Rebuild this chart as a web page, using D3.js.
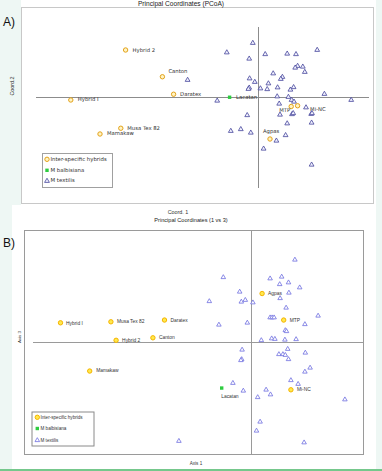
<!DOCTYPE html>
<html>
<head>
<meta charset="utf-8">
<script src="https://cdn.jsdelivr.net/npm/d3@7"></script>
<style>
html,body{margin:0;padding:0;background:#eef7f4;}
svg{display:block;}
</style>
</head>
<body>
<svg id="chart" width="382" height="471"></svg>
<script>
// ---------- DATA ----------
const hybridNames = ["Hybrid 2","Canton","Daratex","Hybrid I","Musa Tex 82","Mamakaw","MTP","Mi-NC","Agpas"];
const balbisianaNames = ["Lacatan"];
const legendLabels = ["Inter-specific hybrids","M balbisiana","M textilis"];

// Panel A: Coord.1 vs Coord.2
const hybridA_c1 = [-0.331,-0.239,-0.211,-0.468,-0.343,-0.395,0.083,0.099,0.030];
const hybridA_c2 = [0.188,0.081,0.011,-0.012,-0.125,-0.148,-0.038,-0.035,-0.168];
const balbA_c1 = [-0.071];
const balbA_c2 = [-0.001];
const textilisA_c1 = [-0.013,-0.078,-0.022,0.018,0.073,0.095,0.148,0.099,0.093,0.112,0.117,0.038,0.061,0.057,-0.021,-0.008,0.026,-0.022,-0.024,0.006,0.023,0.049,0.081,0.089,-0.176,0.166,0.233,-0.102,0.048,0.053,0.076,0.084,0.090,0.120,0.055,0.085,0.088,0.133,0.135,-0.027,0.073,0.134,-0.068,-0.043,-0.018,0.069,0.046,0.014,0.134];
const textilisA_c2 = [0.216,0.178,0.153,0.171,0.173,0.171,0.188,0.124,0.117,0.121,0.100,0.094,0.080,0.072,0.074,0.060,0.054,0.037,0.032,0.034,0.031,0.038,0.029,0.039,0.068,0.012,-0.012,-0.015,0.002,-0.027,0.000,-0.012,-0.019,-0.042,-0.071,-0.069,-0.065,-0.068,-0.065,-0.073,-0.106,-0.103,-0.136,-0.129,-0.143,-0.153,-0.175,-0.207,-0.271];

// Panel B: Axis 1 vs Axis 3
const hybridB_c1 = [-0.336,-0.244,-0.215,-0.475,-0.349,-0.402,0.083,0.101,0.029];
const hybridB_c3 = [0.008,0.018,0.089,0.078,0.082,-0.115,0.089,-0.190,0.195];
const balbB_c1 = [-0.072];
const balbB_c3 = [-0.183];
const textilisB_c1 = [0.111,-0.068,0.049,0.078,0.073,0.095,0.123,-0.027,0.096,0.074,-0.103,-0.023,-0.013,0.006,0.089,0.049,0.054,0.059,0.169,0.136,-0.079,-0.008,0.087,0.090,0.027,0.053,0.061,0.086,0.114,-0.021,0.093,0.137,0.071,0.081,0.087,0.095,-0.022,-0.024,0.149,0.136,0.101,0.119,-0.044,-0.018,0.039,0.050,0.018,0.236,0.024,0.015,0.134,-0.179];
const textilisB_c3 = [0.330,0.260,0.255,0.262,0.232,0.239,0.219,0.202,0.198,0.176,0.164,0.162,0.169,0.159,0.138,0.099,0.099,0.099,0.106,0.072,0.070,0.078,0.048,0.044,0.008,0.015,0.013,0.010,0.012,-0.030,-0.027,-0.042,-0.048,-0.048,-0.051,-0.068,-0.068,-0.072,-0.102,-0.118,-0.152,-0.167,-0.163,-0.194,-0.190,-0.209,-0.220,-0.229,-0.318,-0.354,-0.401,-0.395];

// ---------- STYLE / PLACEMENT ----------
const labelOffA = {"Hybrid 2":[7,0.5],"Canton":[6,-5],"Daratex":[6.5,0.5],"Hybrid I":[7,0],"Musa Tex 82":[6.5,0],"Mamakaw":[7,0],"MTP":[-12,4],"Mi-NC":[12.5,3.5],"Agpas":[-7,-7],"Lacatan":[6.5,0.5]};
const labelOffB = {"Hybrid 2":[6,0.8],"Canton":[6,0.3],"Daratex":[6,0.3],"Hybrid I":[5.5,0.5],"Musa Tex 82":[6,0.3],"Mamakaw":[6.5,0],"MTP":[6,0.3],"Mi-NC":[6,0.2],"Agpas":[6,0.5],"Lacatan":[-0.5,9]};

const svg = d3.select("#chart");

// backgrounds
svg.append("rect").attr("x",21).attr("y",0).attr("width",355).attr("height",205).attr("fill","#fff");
svg.append("rect").attr("x",12).attr("y",205).attr("width",364).attr("height",264).attr("fill","#fff");
svg.append("line").attr("x1",0).attr("x2",382).attr("y1",470).attr("y2",470).attr("stroke","#4cb86a").attr("stroke-width",1.5);

const triSym = d3.symbol().type(d3.symbolTriangle);

function drawPanel(cfg){
  const g = svg.append("g");
  const {x,y} = cfg;
  g.append("rect").attr("x",cfg.box[0]+0.5).attr("y",cfg.box[1]+0.5)
    .attr("width",cfg.box[2]-cfg.box[0]).attr("height",cfg.box[3]-cfg.box[1])
    .attr("fill","#fff").attr("stroke",cfg.frameColor).attr("stroke-width",1);
  g.append("line").attr("x1",Math.round(x(0))+0.5).attr("x2",Math.round(x(0))+0.5)
    .attr("y1",cfg.vLine[0]).attr("y2",cfg.vLine[1]).attr("stroke",cfg.axisColor).attr("stroke-width",1);
  g.append("line").attr("y1",Math.round(y(0))+0.5).attr("y2",Math.round(y(0))+0.5)
    .attr("x1",cfg.hLine[0]).attr("x2",cfg.hLine[1]).attr("stroke",cfg.axisColor).attr("stroke-width",1);

  const tri = cfg.tx.map((v,i)=>({x:v,y:cfg.ty[i]}));
  g.selectAll(".tri").data(tri).enter().append("path")
    .attr("d",triSym.size(cfg.triSize)())
    .attr("transform",d=>`translate(${x(d.x)},${y(d.y)})`)
    .attr("fill",cfg.triFill).attr("stroke",cfg.triColor).attr("stroke-width",0.8);

  const bal = cfg.bx.map((v,i)=>({name:balbisianaNames[i],x:v,y:cfg.by[i]}));
  g.selectAll(".bal").data(bal).enter().append("rect")
    .attr("x",d=>x(d.x)-1.7).attr("y",d=>y(d.y)-1.7).attr("width",3.4).attr("height",3.4)
    .attr("fill","#2ecc40");
  const hyb = cfg.hx.map((v,i)=>({name:hybridNames[i],x:v,y:cfg.hy[i]}));
  g.selectAll(".hyb").data(hyb).enter().append("circle")
    .attr("cx",d=>x(d.x)).attr("cy",d=>y(d.y)).attr("r",2.2)
    .attr("fill",cfg.hybFill).attr("stroke",cfg.hybColor).attr("stroke-width",1);

  g.selectAll(".lbl").data(hyb.concat(bal)).enter().append("text")
    .attr("x",d=>x(d.x)+cfg.off[d.name][0]).attr("y",d=>y(d.y)+cfg.off[d.name][1])
    .attr("dominant-baseline","middle")
    .attr("font-family",cfg.font).attr("font-size",cfg.labelSize).attr("fill","#333")
    .text(d=>d.name);

  const L = cfg.legend;
  g.append("rect").attr("x",L.x+0.5).attr("y",L.y+0.5).attr("width",L.w).attr("height",L.h)
    .attr("fill","#fff").attr("stroke",cfg.legendStroke).attr("stroke-width",1);
  L.rows.forEach((ry,i)=>{
    const mx = L.x + L.mx;
    if(i===0){
      g.append("circle").attr("cx",mx).attr("cy",ry).attr("r",2.2)
        .attr("fill",cfg.hybFill).attr("stroke",cfg.hybColor).attr("stroke-width",1);
    } else if(i===1){
      g.append("rect").attr("x",mx-1.7).attr("y",ry-1.7).attr("width",3.4).attr("height",3.4).attr("fill","#2ecc40");
    } else {
      g.append("path").attr("d",triSym.size(cfg.triSize)()).attr("transform",`translate(${mx},${ry})`)
        .attr("fill",cfg.triFill).attr("stroke",cfg.triColor).attr("stroke-width",0.8);
    }
    g.append("text").attr("x",L.x+L.tx).attr("y",ry).attr("dominant-baseline","middle")
      .attr("font-family",cfg.font).attr("font-size",L.size).attr("fill","#333").text(legendLabels[i]);
  });

  g.append("text").attr("x",cfg.title[1]).attr("y",cfg.title[2]).attr("text-anchor","middle")
    .attr("font-family","Liberation Sans, Arial, sans-serif").attr("font-size",cfg.title[3]).attr("fill","#222").text(cfg.title[0]);
  g.append("text").attr("x",cfg.xlab[1]).attr("y",cfg.xlab[2]).attr("text-anchor","middle")
    .attr("font-family","Liberation Sans, Arial, sans-serif").attr("font-size",cfg.xlab[3]).attr("fill","#333").text(cfg.xlab[0]);
  g.append("text").attr("transform",`translate(${cfg.ylab[1]},${cfg.ylab[2]}) rotate(-90)`).attr("text-anchor","middle")
    .attr("font-family","Liberation Sans, Arial, sans-serif").attr("font-size",cfg.ylab[3]).attr("fill","#333").text(cfg.ylab[0]);
  g.append("text").attr("x",cfg.tag[1]).attr("y",cfg.tag[2])
    .attr("font-family","Liberation Sans, Arial, sans-serif").attr("font-size",12).attr("fill","#111").text(cfg.tag[0]);
}

// Panel A
const xA = d3.scaleLinear().domain([-0.555,0.2775]).range([36,369]);
const yA = d3.scaleLinear().domain([-0.364,0.28]).range([188,27]);
drawPanel({
  x:xA, y:yA, box:[21,7,373,203], frameColor:"#c8c8c8", axisColor:"#8c8c8c",
  vLine:[27,188], hLine:[36,369],
  tx:textilisA_c1, ty:textilisA_c2, bx:balbA_c1, by:balbA_c2, hx:hybridA_c1, hy:hybridA_c2,
  triSize:10, triFill:"#f2f2ff", triColor:"#45459a",
  hybFill:"#fff4c4", hybColor:"#e3a21a",
  off:labelOffA, font:"DejaVu Sans, Verdana, sans-serif", labelSize:5.3,
  legend:{x:42,y:153,w:70,h:34,mx:5,tx:8.5,rows:[159.3,170.3,181],size:5.4},
  legendStroke:"#a0a0a0",
  title:["Principal Coordinates (PCoA)",181,5.6,6.6],
  xlab:["Coord. 1",178,213.5,5.4],
  ylab:["Coord.2",13.5,86,5.4],
  tag:["A)",3,26]
});

// Panel B
const xB = d3.scaleLinear().domain([-0.5655,0.282]).range([24.3,363.3]);
const yB = d3.scaleLinear().domain([-0.4468,0.4464]).range([454,230.7]);
drawPanel({
  x:xB, y:yB, box:[24,230,363,454], frameColor:"#9a9a9a", axisColor:"#9a9a9a",
  vLine:[230.5,454], hLine:[33,363],
  tx:textilisB_c1, ty:textilisB_c3, bx:balbB_c1, by:balbB_c3, hx:hybridB_c1, hy:hybridB_c3,
  triSize:9, triFill:"#ffffff", triColor:"#6e6ee0",
  hybFill:"#ffe94d", hybColor:"#f5b400",
  off:labelOffB, font:"Liberation Sans, Arial, sans-serif", labelSize:4.9,
  legend:{x:31.5,y:411.5,w:62,h:34,mx:5.8,tx:9,rows:[417.3,428.5,440.3],size:4.6},
  legendStroke:"#8a8a8a",
  title:["Principal Coordinates (1 vs 3)",191,222,5.6],
  xlab:["Axis 1",196,464.5,4.6],
  ylab:["Axis 3",20.5,337,4.4],
  tag:["B)",3,247]
});
</script>
</body>
</html>
